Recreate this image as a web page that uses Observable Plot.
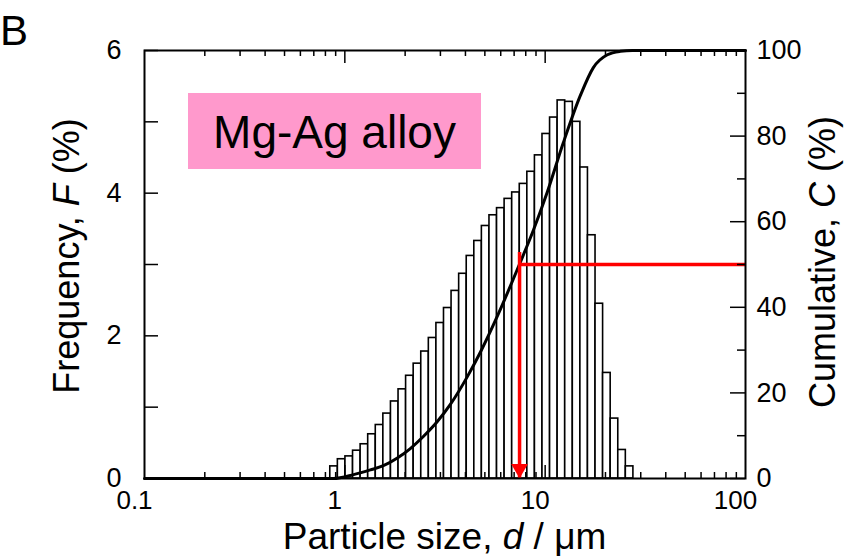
<!DOCTYPE html>
<html><head><meta charset="utf-8">
<script src="https://cdn.jsdelivr.net/npm/d3@7"></script>
<script src="https://cdn.jsdelivr.net/npm/@observablehq/plot@0.6"></script>
<style>
body{margin:0;background:#fff}
#chart{width:844px;height:558px}
</style>
</head><body><div id="chart"></div>
<script>
// Histogram bin edges (particle size, µm) and frequency F (%) per bin
const binEdges = [0.846,0.923,1.007,1.099,1.199,1.308,1.427,1.557,1.699,1.854,
  2.022,2.206,2.407,2.626,2.865,3.126,3.410,3.721,4.059,4.429,
  4.831,5.272,5.751,6.274,6.845,7.468,8.147,8.889,9.696,10.58,
  11.54,12.59,13.74,14.99,16.35,17.84,19.46,21.23,23.17,25.27,27.57];
const frequency = [0.17,0.27,0.31,0.39,0.48,0.62,0.75,0.91,1.08,1.25,
  1.44,1.61,1.78,1.97,2.18,2.39,2.63,2.87,3.12,3.33,
  3.54,3.69,3.79,3.92,4.01,4.13,4.30,4.53,4.83,5.06,
  5.30,5.28,5.00,4.36,3.41,2.45,1.48,0.84,0.40,0.17];
// Cumulative curve C (%)
const curveSize = [0.1,0.876,1.106,1.341,1.557,1.829,2.123,2.466,2.896,3.363,4.089,4.748,5.975,7.433,8.733,10.26,12.33,14.99,17.40,20.44,23.74,27.25,100];
const curveCum  = [0,0,0.9,2.0,3.0,4.8,7.0,9.8,13.3,17.3,23.8,29.5,39.5,50,58,67,78.5,89.5,96,99,99.8,100,100];
// Median marker
const d50 = 7.45;
const c50 = 50;
// Axis ticks
const xTicks = [0.1,1,10,100];
const xTickLabels = ["0.1","1","10","100"];
const xMinorTicks = [0.2,0.3,0.4,0.5,0.6,0.7,0.8,0.9,2,3,4,5,6,7,8,9,20,30,40,50,60,70,80,90];
const xMajorInner = [1,10];
const leftTicks = [0,2,4,6];
const leftTickLabels = ["0","2","4","6"];
const leftAllTicks = [0,1,2,3,4,5,6];
const rightTicks = [0,20,40,60,80,100];
const rightTickLabels = ["0","20","40","60","80","100"];
const rightMinorTicks = [10,30,50,70,90];
const F_MAX = 6, C_MAX = 100;
const toF = c => c * F_MAX / C_MAX;

const W = 844, H = 558, mL = 144, mR = 99, mT = 50, mB = 80;
const fw = W - mL - mR, fh = H - mT - mB;

const bars = frequency.map((f, i) => ({x1: binEdges[i], x2: binEdges[i + 1], f}));
const curve = curveSize.map((d, i) => ({d, c: curveCum[i]}));

const font = "'Liberation Sans', Arial, Helvetica, sans-serif";
const plot = Plot.plot({
  width: W, height: H,
  marginLeft: mL, marginRight: mR, marginTop: mT, marginBottom: mB,
  style: {fontFamily: font, fontSize: "27px", color: "#000", background: "#fff", overflow: "visible"},
  x: {type: "log", domain: [0.1, 100], label: null, axis: null},
  y: {domain: [0, F_MAX], label: null, axis: null},
  marks: [
    Plot.rectY(bars, {x1: "x1", x2: "x2", y: "f", fill: "white", stroke: "black", strokeWidth: 1.6}),
    Plot.line(curve, {x: "d", y: d => toF(d.c), stroke: "black", strokeWidth: 3, curve: "monotone-x"}),
    // red median marker
    Plot.ruleY([c50], {y: toF, x1: () => d50, x2: () => 100, stroke: "#ff0000", strokeWidth: 3.5}),
    Plot.ruleX([d50], {x: d => d, y1: () => 0, y2: () => toF(c50), stroke: "#ff0000", strokeWidth: 3.5, insetBottom: 12}),
    Plot.dot([d50], {x: d => d, y: () => 0, symbol: "triangle", r: 6.2, fill: "#ff0000", stroke: "none", rotate: 180, dy: -9.6}),
    // ticks (inward)
    Plot.tickX(xMinorTicks, {x: d => d, insetTop: fh - 6, stroke: "black", strokeWidth: 1.5}),
    Plot.tickX(xMinorTicks, {x: d => d, insetBottom: fh - 6, stroke: "black", strokeWidth: 1.5}),
    Plot.tickX(xMajorInner, {x: d => d, insetTop: fh - 13, stroke: "black", strokeWidth: 1.5}),
    Plot.tickX(xMajorInner, {x: d => d, insetBottom: fh - 13, stroke: "black", strokeWidth: 1.5}),
    Plot.tickY(leftAllTicks, {y: d => d, insetRight: fw - 14, stroke: "black", strokeWidth: 1.5}),
    Plot.tickY(rightTicks, {y: toF, insetLeft: fw - 15, stroke: "black", strokeWidth: 1.5}),
    Plot.tickY(rightMinorTicks, {y: toF, insetLeft: fw - 8, stroke: "black", strokeWidth: 1.5}),
    // tick labels
    Plot.text(xTicks, {x: d => d, frameAnchor: "bottom", lineAnchor: "top", dy: 12, dx: -10,
      text: (d, i) => xTickLabels[i], fontSize: 26, fill: "black"}),
    Plot.text(leftTicks, {y: d => d, frameAnchor: "left", textAnchor: "end", dx: -23,
      text: (d, i) => leftTickLabels[i], fontSize: 27, fill: "black"}),
    Plot.text(rightTicks, {y: toF, frameAnchor: "right", textAnchor: "start", dx: 11,
      text: (d, i) => rightTickLabels[i], fontSize: 27, fill: "black"}),
    Plot.frame({stroke: "black", strokeWidth: 2})
  ]
});
document.getElementById("chart").appendChild(plot);

const svg = d3.select(plot);
const g = svg.append("g").attr("font-family", font).attr("fill", "black");
// panel letter
g.append("text").attr("x", 14).attr("y", 45).attr("font-size", 42).text("B");
// left title
const lt = g.append("text").attr("transform", "translate(79,256) rotate(-90)")
  .attr("text-anchor", "middle").attr("font-size", 36);
lt.append("tspan").text("Frequency, ");
lt.append("tspan").attr("font-style", "italic").text("F");
lt.append("tspan").text(" (%)");
// right title
const rt = g.append("text").attr("transform", "translate(835,262) rotate(-90)")
  .attr("text-anchor", "middle").attr("font-size", 36);
rt.append("tspan").text("Cumulative, ");
rt.append("tspan").attr("font-style", "italic").text("C");
rt.append("tspan").text(" (%)");
// bottom title
const bt = g.append("text").attr("x", mL + fw / 2).attr("y", 549)
  .attr("text-anchor", "middle").attr("font-size", 37);
bt.append("tspan").text("Particle size, ");
bt.append("tspan").attr("font-style", "italic").text("d");
bt.append("tspan").text(" / \u03bcm");
// label box
g.append("rect").attr("x", 188).attr("y", 93).attr("width", 293).attr("height", 76).attr("fill", "#ff99cc");
g.append("text").attr("x", 334.5).attr("y", 148).attr("text-anchor", "middle").attr("font-size", 46).text("Mg-Ag alloy");
</script>
</body></html>
